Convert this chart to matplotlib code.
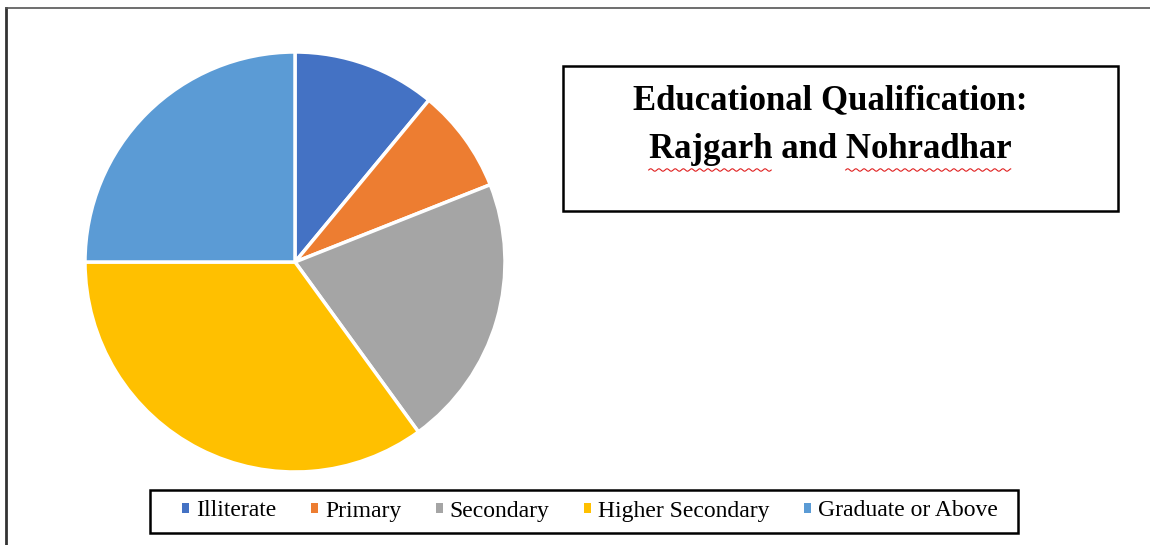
import numpy as np
import matplotlib.pyplot as plt
from matplotlib.lines import Line2D
from matplotlib.patches import Rectangle
from matplotlib.textpath import TextPath
from matplotlib.font_manager import FontProperties

labels = ["Illiterate", "Primary", "Secondary", "Higher Secondary", "Graduate or Above"]
shares = [11, 8, 21, 35, 25]
colors = ["#4472C4", "#ED7D31", "#A5A5A5", "#FFC000", "#5B9BD5"]
title_lines = ["Educational Qualification:", "Rajgarh and Nohradhar"]

W, H = 1150, 545
fig = plt.figure(figsize=(W / 100, H / 100), dpi=100)
plt.rcParams['font.family'] = ['Liberation Serif', 'DejaVu Serif']

def box(x0, y0, x1, y1, lw=1.8):
    # rectangle given in pixel coords measured from the top-left
    fig.add_artist(Rectangle((x0 / W, 1 - y1 / H), (x1 - x0) / W, (y1 - y0) / H,
                             fill=False, edgecolor="black", lw=lw, transform=fig.transFigure))

# outer frame (left + top only, the rest is cropped)
fig.add_artist(Line2D([6 / W, 6 / W], [0, 1 - 8 / H], color="#333333", lw=2, transform=fig.transFigure))
fig.add_artist(Line2D([6 / W, 1], [1 - 8 / H, 1 - 8 / H], color="#555555", lw=1.2, transform=fig.transFigure))

# pie
cx, cy, r = 295, 262, 210
ax = fig.add_axes([(cx - r) / W, (H - cy - r) / H, 2 * r / W, 2 * r / H])
wedges, _ = ax.pie(shares, colors=colors, startangle=90, counterclock=False, radius=1,
                   wedgeprops=dict(edgecolor="white", linewidth=2.5))
ax.set_xlim(-1, 1)
ax.set_ylim(-1, 1)
ax.set_aspect("equal")
ax.axis("off")

# title box
box(563, 66, 1118, 211)
tx = 830 / W
tsize = 25
t1 = fig.text(tx, 1 - 101 / H, title_lines[0], ha="center", va="center", fontsize=tsize, fontweight="bold")
t2 = fig.text(tx, 1 - 149 / H, title_lines[1], ha="center", va="center", fontsize=tsize, fontweight="bold")

# red spell-check squiggles under two words
fig.canvas.draw()
ren = fig.canvas.get_renderer()
bb = t2.get_window_extent(ren)
full = title_lines[1]
fp = FontProperties(family='Liberation Serif', weight='bold', size=tsize)
def width_px(s):
    return TextPath((0, 0), s, prop=fp).get_extents().width * 100 / 72 if s else 0
tot = width_px(full)
scale = bb.width / tot
for word in ["Rajgarh", "Nohradhar"]:
    i = full.index(word)
    xs = bb.x0 + width_px(full[:i] + "x") * scale - width_px("x") * scale if i else bb.x0
    xe = xs + width_px(word) * scale
    xx = np.arange(xs, xe, 0.5)
    yy = (H - 170) + 1.2 * np.sin((xx - xs) / 1.3)
    fig.add_artist(Line2D(xx / W, yy / H, color="#E02020", lw=0.8, transform=fig.transFigure))

# legend
box(150, 490, 1018, 533)
leg = fig.legend(wedges, labels, loc="center", bbox_to_anchor=(590 / W, 1 - 511 / H), ncol=5,
                 frameon=False, fontsize=17,
                 handlelength=0.3, handleheight=0.3, handletextpad=0.3, columnspacing=1.45)
for h in leg.legend_handles:
    h.set_edgecolor("none")

fig.savefig("out.png", dpi=100)
